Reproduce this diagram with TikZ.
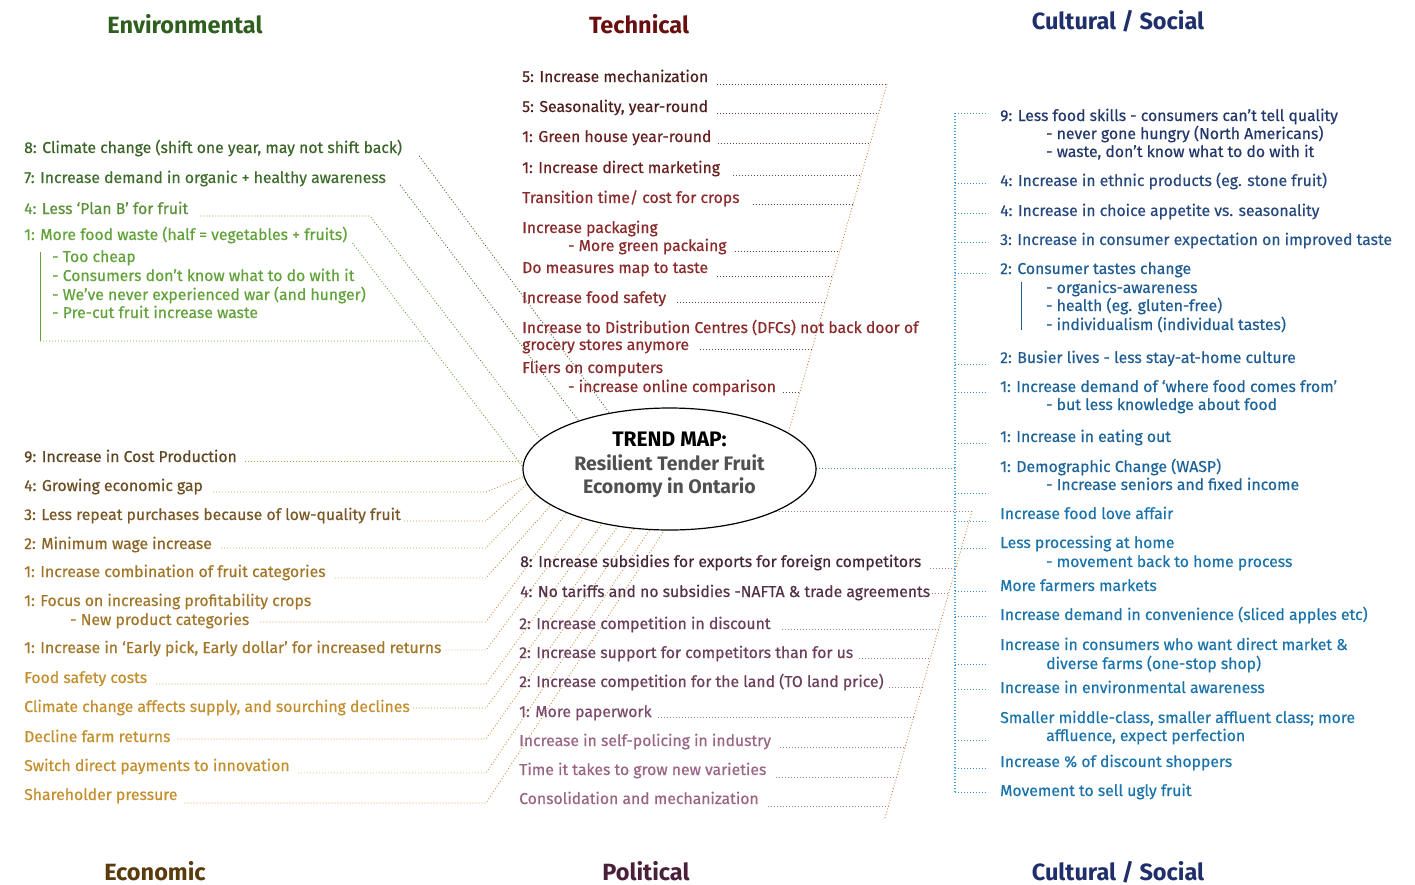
\documentclass[tikz,border=0pt]{standalone}
\usepackage{fontspec}
\setmainfont{Fira Sans}[UprightFeatures={FakeBold=0.5}]
\usetikzlibrary{calc,shapes.geometric}
\pgfdeclarelayer{bg}
\pgfsetlayers{bg,main}
\definecolor{hEnv}{HTML}{2F5F1F}
\definecolor{hTech}{HTML}{6A0F10}
\definecolor{hCult}{HTML}{1F2F6B}
\definecolor{hEcon}{HTML}{5A3C0C}
\definecolor{hPol}{HTML}{4A1F3A}
\definecolor{enA}{HTML}{3A6428}
\definecolor{enB}{HTML}{3E6E2C}
\definecolor{enC}{HTML}{5A9038}
\definecolor{enD}{HTML}{62A23A}
\definecolor{ecA}{HTML}{5E4521}
\definecolor{ecB}{HTML}{6C4E22}
\definecolor{ecC}{HTML}{7A5826}
\definecolor{ecD}{HTML}{8C6527}
\definecolor{ecE}{HTML}{A27628}
\definecolor{ecF}{HTML}{C48E2C}
\definecolor{teA}{HTML}{4E201D}
\definecolor{teB}{HTML}{6A2020}
\definecolor{teC}{HTML}{8A2A2A}
\definecolor{poA}{HTML}{45253A}
\definecolor{poB}{HTML}{553049}
\definecolor{poC}{HTML}{6C3F5D}
\definecolor{poD}{HTML}{7C4A6A}
\definecolor{poE}{HTML}{9A6585}
\definecolor{cuA}{HTML}{23386A}
\definecolor{cuB}{HTML}{26477C}
\definecolor{cuC}{HTML}{24548A}
\definecolor{cuD}{HTML}{1F5C92}
\definecolor{cuE}{HTML}{1C6499}
\definecolor{cuF}{HTML}{1A74AB}
\definecolor{lnEc}{HTML}{C8903E}
\definecolor{lnTr}{HTML}{C8843C}
\definecolor{lnTe}{HTML}{6A4038}
\definecolor{lnPo}{HTML}{A77894}
\definecolor{lnCu}{HTML}{3C8DCB}
\definecolor{lnCt}{HTML}{4FA0D6}
\definecolor{trendgray}{HTML}{505050}
\tikzset{
  txt/.style={anchor=base west, inner sep=0pt, font=\fontsize{15.75}{18}\selectfont},
  head/.style={anchor=base, inner sep=0pt, font=\fontsize{23.5}{26}\selectfont\bfseries},
  dl/.style={line width=0.9pt, dash pattern=on 0.9pt off 2.1pt},
  solidbar/.style={line width=0.9pt},
}
\begin{document}
\begin{tikzpicture}[x=1pt,y=-1pt]
\useasboundingbox (0,0) rectangle (1415,884);

% headings
\node[head,text=hEnv] (hEnv) at (185,33) {Environmental};
\node[head,text=hTech] (hTech) at (639,33) {Technical};
\node[head,text=hCult] (hCult) at (1118,29) {Cultural / Social};
\node[head,text=hEcon] (hEcon) at (155,880) {Economic};
\node[head,text=hPol] (hPol) at (646,880) {Political};
\node[head,text=hCult] (hCultB) at (1118,880) {Cultural / Social};

% central ellipse
\node[ellipse, draw, line width=1.2pt, fill=white, minimum width=293pt, minimum height=122pt, inner sep=0pt] (trend) at (669.5,469) {};
\node[align=center, inner sep=0pt, font=\fontsize{19.5}{23.5}\selectfont\bfseries] (trendlbl) at (669.5,465) {\textcolor{black}{\fontsize{21}{23.5}\selectfont TREND MAP:}\\\textcolor{trendgray}{Resilient Tender Fruit}\\\textcolor{trendgray}{Economy in Ontario}};

% Environmental
\node[txt,text=enA] (e8) at (24,153) {8: Climate change (shift one year, may not shift back)};
\node[txt,text=enB] (e7) at (24,183) {7: Increase demand in organic + healthy awareness};
\node[txt,text=enC] (e4) at (24,214) {4: Less ‘Plan B’ for fruit};
\node[txt,text=enD] (e1) at (24,240) {1: More food waste (half = vegetables + fruits)};
\node[txt,text=enD] (e1a) at (52,262) {- Too cheap};
\node[txt,text=enD] (e1b) at (52,281) {- Consumers don’t know what to do with it};
\node[txt,text=enD] (e1c) at (52,300) {- We’ve never experienced war (and hunger)};
\node[txt,text=enD] (e1d) at (52,318) {- Pre-cut fruit increase waste};

% Technical
\node[txt,text=teA] (t1) at (522,82) {5: Increase mechanization};
\node[txt,text=teA] (t2) at (522,112) {5: Seasonality, year-round};
\node[txt,text=teB] (t3) at (522,142) {1: Green house year-round};
\node[txt,text=teB] (t4) at (522,173) {1: Increase direct marketing};
\node[txt,text=teC] (t5) at (522,203) {Transition time/ cost for crops};
\node[txt,text=teC] (t6) at (522,233) {Increase packaging};
\node[txt,text=teC] (t6a) at (568,251) {- More green packaing};
\node[txt,text=teC] (t7) at (522,273) {Do measures map to taste};
\node[txt,text=teC] (t8) at (522,303) {Increase food safety};
\node[txt,text=teC] (t9) at (522,333) {Increase to Distribution Centres (DFCs) not back door of};
\node[txt,text=teC] (t9a) at (522,350) {grocery stores anymore};
\node[txt,text=teC] (t10) at (522,373) {Fliers on computers};
\node[txt,text=teC] (t10a) at (568,392) {- increase online comparison};

% Economic
\node[txt,text=ecA] (c1) at (24,462) {9: Increase in Cost Production};
\node[txt,text=ecB] (c2) at (24,491) {4: Growing economic gap};
\node[txt,text=ecC] (c3) at (24,520) {3: Less repeat purchases because of low-quality fruit};
\node[txt,text=ecD] (c4) at (24,549) {2: Minimum wage increase};
\node[txt,text=ecE] (c5) at (24,577) {1: Increase combination of fruit categories};
\node[txt,text=ecE] (c6) at (24,606) {1: Focus on increasing profitability crops};
\node[txt,text=ecE] (c6a) at (70,625) {- New product categories};
\node[txt,text=ecE] (c7) at (24,653) {1: Increase in ‘Early pick, Early dollar’ for increased returns};
\node[txt,text=ecF] (c8) at (24,683) {Food safety costs};
\node[txt,text=ecF] (c9) at (24,712) {Climate change affects supply, and sourching declines};
\node[txt,text=ecF] (c10) at (24,742) {Decline farm returns};
\node[txt,text=ecF] (c11) at (24,771) {Switch direct payments to innovation};
\node[txt,text=ecF] (c12) at (24,800) {Shareholder pressure};

% Political
\node[txt,text=poA] (p1) at (520,567) {8: Increase subsidies for exports for foreign competitors};
\node[txt,text=poB] (p2) at (520,597) {4: No tariffs and no subsidies -NAFTA \& trade agreements};
\node[txt,text=poC] (p3) at (519,629) {2: Increase competition in discount};
\node[txt,text=poC] (p4) at (519,658) {2: Increase support for competitors than for us};
\node[txt,text=poC] (p5) at (519,687) {2: Increase competition for the land (TO land price)};
\node[txt,text=poD] (p6) at (519,717) {1: More paperwork};
\node[txt,text=poE] (p7) at (519,746) {Increase in self-policing in industry};
\node[txt,text=poE] (p8) at (519,775) {Time it takes to grow new varieties};
\node[txt,text=poE] (p9) at (519,804) {Consolidation and mechanization};

% Cultural / Social
\node[txt,text=cuA] (s1) at (1000,121) {9: Less food skills - consumers can’t tell quality};
\node[txt,text=cuA] (s1a) at (1046,139) {- never gone hungry (North Americans)};
\node[txt,text=cuA] (s1b) at (1046,157) {- waste, don’t know what to do with it};
\node[txt,text=cuB] (s2) at (1000,186) {4: Increase in ethnic products (eg. stone fruit)};
\node[txt,text=cuB] (s3) at (1000,216) {4: Increase in choice appetite vs. seasonality};
\node[txt,text=cuC] (s4) at (1000,245) {3: Increase in consumer expectation on improved taste};
\node[txt,text=cuD] (s5) at (1000,274) {2: Consumer tastes change};
\node[txt,text=cuD] (s5a) at (1046,293) {- organics-awareness};
\node[txt,text=cuD] (s5b) at (1046,311) {- health (eg. gluten-free)};
\node[txt,text=cuD] (s5c) at (1046,330) {- individualism (individual tastes)};
\node[txt,text=cuD] (s6) at (1000,363) {2: Busier lives - less stay-at-home culture};
\node[txt,text=cuE] (s7) at (1000,392) {1: Increase demand of ‘where food comes from’};
\node[txt,text=cuE] (s7a) at (1046,410) {- but less knowledge about food};
\node[txt,text=cuE] (s8) at (1000,442) {1: Increase in eating out};
\node[txt,text=cuE] (s9) at (1000,472) {1: Demographic Change (WASP)};
\node[txt,text=cuE] (s9a) at (1046,490) {- Increase seniors and fixed income};
\node[txt,text=cuF] (s10) at (1000,519) {Increase food love affair};
\node[txt,text=cuF] (s11) at (1000,548) {Less processing at home};
\node[txt,text=cuF] (s11a) at (1046,567) {- movement back to home process};
\node[txt,text=cuF] (s12) at (1000,591) {More farmers markets};
\node[txt,text=cuF] (s13) at (1000,620) {Increase demand in convenience (sliced apples etc)};
\node[txt,text=cuF] (s14) at (1000,650) {Increase in consumers who want direct market \&};
\node[txt,text=cuF] (s14a) at (1046,669) {diverse farms (one-stop shop)};
\node[txt,text=cuF] (s15) at (1000,693) {Increase in environmental awareness};
\node[txt,text=cuF] (s16) at (1000,723) {Smaller middle-class, smaller affluent class; more};
\node[txt,text=cuF] (s16a) at (1046,741) {affluence, expect perfection};
\node[txt,text=cuF] (s17) at (1000,767) {Increase \% of discount shoppers};
\node[txt,text=cuF] (s18) at (1000,796) {Movement to sell ugly fruit};

% connector coordinates
\coordinate (e8s) at ($(e8.base east)+(17,3)$);
\coordinate (e7s) at ($(e7.base east)+(14,2)$);
\coordinate (e4s) at ($(e4.base east)+(12,2)$);
\coordinate (e4k) at (370,216);
\coordinate (e1s) at ($(e1.base east)+(5,3)$);
\coordinate (e1t) at (trend.179);
\coordinate (brkT) at (40,252);
\coordinate (brkB) at (40,341);
\coordinate (brkR) at (700,341);
\coordinate (ek) at (486,0);
\coordinate (c1s) at ($(c1.base east)+(8,-1)$);
\coordinate (c2s) at ($(c2.base east)+(10,1)$);
\coordinate (c3s) at ($(c3.base east)+(3,1)$);
\coordinate (c4s) at ($(c4.base east)+(9,-1)$);
\coordinate (c5s) at ($(c5.base east)+(9,1)$);
\coordinate (c6s) at ($(c6a.base east)+(11,-3)$);
\coordinate (c7s) at ($(c7.base east)+(4,-3)$);
\coordinate (c8s) at ($(c8.base east)+(9,1)$);
\coordinate (c9s) at ($(c9.base east)+(3,-4)$);
\coordinate (c10s) at ($(c10.base east)+(7,-3)$);
\coordinate (c11s) at ($(c11.base east)+(8,2)$);
\coordinate (c12s) at ($(c12.base east)+(7,3)$);
\coordinate (tTop) at (887,84);
\coordinate (pBot) at (885,818);
\coordinate (pTop) at (972,511);
\coordinate (cTop) at (955,113);
\coordinate (cBot) at (955,792);
\coordinate (cMid) at (955,468);

\begin{pgfonlayer}{bg}
% environmental
\draw[dl,enA] (e8s) -- (trend.137);
\draw[dl,enB] (e7s) -- (trend.152);
\draw[dl,enC] (e4s) -- (e4k) -- (trend.167);
\draw[dl,enD] (e1s) -- (e1t);
\draw[solidbar,enD] (brkT) -- (brkB);
\draw[dl,enD] (brkB) -- (intersection of e1s--e1t and brkB--brkR);
% economic
\draw[dl,lnEc] (c1s) -- (c1s -| trend.center);
\draw[dl,lnEc] (c2s) -- (c2s -| ek) -- (trend.183);
\draw[dl,lnEc] (c3s) -- (c3s -| ek) -- (trend.186.5);
\draw[dl,lnEc] (c4s) -- (c4s -| ek) -- (trend.191.5);
\draw[dl,lnEc] (c5s) -- (c5s -| ek) -- (trend.197);
\draw[dl,lnEc] (c6s) -- (c6s -| ek) -- (trend.203.5);
\draw[dl,lnEc] (c7s) -- (c7s -| ek) -- (trend.210.5);
\draw[dl,lnEc] (c8s) -- (c8s -| ek) -- (trend.219);
\draw[dl,lnEc] (c9s) -- (c9s -| ek) -- (trend.228);
\draw[dl,lnEc] (c10s) -- (c10s -| ek) -- (trend.239);
\draw[dl,lnEc] (c11s) -- (c11s -| ek) -- (trend.252);
\draw[dl,lnEc] (c12s) -- (c12s -| ek) -- (trend.265);
% technical
\draw[dl,lnTr] (tTop) -- (trend.17);
\draw[dl,lnTe] ($(t1.base east)+(9,2)$) -- (887,84);
\draw[dl,lnTe] ($(t2.base east)+(9,1)$) -- (878.8,113);
\draw[dl,lnTe] ($(t3.base east)+(6,1)$) -- (870.3,143);
\draw[dl,lnTe] ($(t4.base east)+(13,2)$) -- (861.2,175);
\draw[dl,lnTe] ($(t5.base east)+(13,1)$) -- (853,204);
\draw[dl,lnTe] ($(t6a.base east)+(8,0)$) -- (839.6,251);
\draw[dl,lnTe] ($(t7.base east)+(9,3)$) -- (832.5,276);
\draw[dl,lnTe] ($(t8.base east)+(11,-1)$) -- (825.2,302);
\draw[dl,lnTe] ($(t9a.base east)+(11,-1)$) -- (811.8,349);
\draw[dl,lnTe] ($(t10a.base east)+(7,0)$) -- (799.6,392);
% political
\draw[dl,lnTr] (pBot) -- (pTop);
\draw[dl,lnPo] (pTop) -- (pTop -| trend.center);
\draw[dl,lnPo] ($(p1.base east)+(9,1)$) -- (955.9,568);
\draw[dl,lnPo] ($(p2.base east)+(2,-4)$) -- (948.8,593);
\draw[dl,lnPo] ($(p3.base east)+(11,0)$) -- (938.6,629);
\draw[dl,lnPo] ($(p4.base east)+(6,0)$) -- (930.3,658);
\draw[dl,lnPo] ($(p5.base east)+(5,0)$) -- (922.1,687);
\draw[dl,lnPo] ($(p6.base east)+(6,0)$) -- (913.6,717);
\draw[dl,lnPo] ($(p7.base east)+(9,1)$) -- (905.1,747);
\draw[dl,lnPo] ($(p8.base east)+(9,2)$) -- (896.6,777);
\draw[dl,lnPo] ($(p9.base east)+(9,2)$) -- (888.4,806);
% cultural
\draw[dl,lnCt,line width=1.1pt] (cTop) -- (cBot);
\draw[dl,lnCu] (cMid) -- (cMid -| trend.center);
\foreach \yy in {113,183,213,242,273,364,392,443,493,521,548,591,616,664,689,740,768,792}
  \draw[dl,lnCu] (955,\yy) -- (988,\yy);
\draw[solidbar,cuD] (1021,282) -- (1021,330);
\end{pgfonlayer}
\end{tikzpicture}
\end{document}
